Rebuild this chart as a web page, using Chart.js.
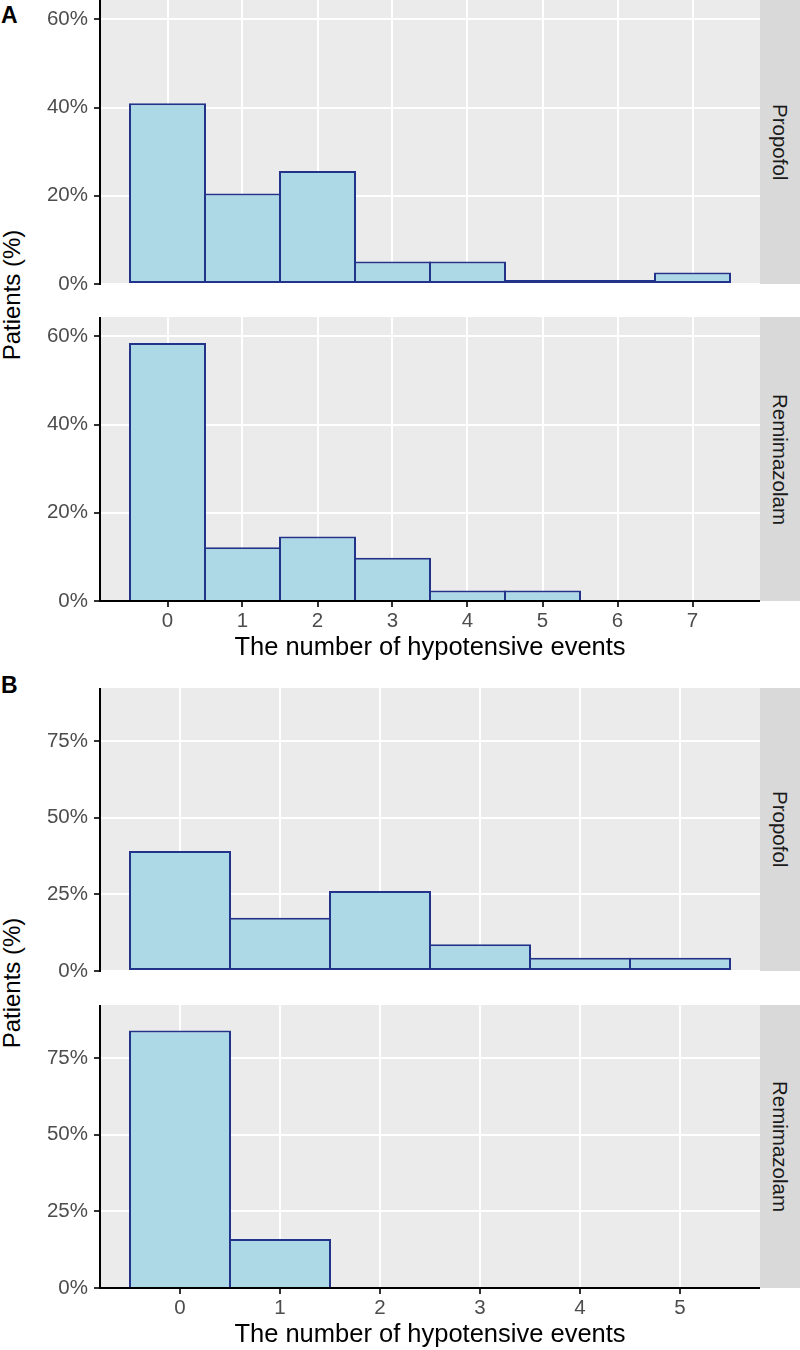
<!DOCTYPE html>
<html>
<head>
<meta charset="utf-8">
<script src="https://cdn.jsdelivr.net/npm/chart.js@4/dist/chart.umd.min.js"></script>
<style>
  body { margin: 0; background: #fff; font-family: "Liberation Sans", Arial, sans-serif; }
  #wrap { position: relative; width: 800px; height: 1350px; overflow: hidden; }
  canvas { position: absolute; left: 0; }
  .strip { position: absolute; left: 760px; width: 40px; background: #D9D9D9;
           display: flex; align-items: center; justify-content: center; }
  .strip span { writing-mode: vertical-rl; font-size: 20.5px; color: #1A1A1A; }
  .tag { position: absolute; left: 1px; font-weight: bold; font-size: 23px; color: #000; }
  .ylab { position: absolute; left: 12px; width: 0; height: 0; }
  .ylab span { position: absolute; transform: translate(-50%, -50%) rotate(-90deg);
               white-space: nowrap; font-size: 24px; color: #000; }
</style>
</head>
<body>
<div id="wrap">
  <div class="tag" style="top:2px">A</div>
  <div class="tag" style="top:672px">B</div>
  <div class="ylab" style="top:295px"><span>Patients (%)</span></div>
  <div class="ylab" style="top:983px"><span>Patients (%)</span></div>

  <canvas id="aProp" width="760" height="300" style="top:0px"></canvas>
  <canvas id="aRemi" width="760" height="346" style="top:317px"></canvas>
  <canvas id="bProp" width="760" height="299" style="top:688px"></canvas>
  <canvas id="bRemi" width="760" height="345" style="top:1005px"></canvas>

  <div class="strip" style="top:0px;height:284px"><span>Propofol</span></div>
  <div class="strip" style="top:317px;height:284px"><span>Remimazolam</span></div>
  <div class="strip" style="top:688px;height:283px"><span>Propofol</span></div>
  <div class="strip" style="top:1005px;height:283px"><span>Remimazolam</span></div>
</div>

<script>
// number of hypotensive events (bins) and % of patients
var binsA = [0, 1, 2, 3, 4, 5, 6, 7];
var propofolA = [41.0, 20.5, 25.6, 5.1, 5.1, 0, 0, 2.6];
var remimazolamA = [58.5, 12.2, 14.6, 9.8, 2.4, 2.4, 0, 0];

var binsB = [0, 1, 2, 3, 4, 5];
var propofolB = [39.1, 17.4, 26.1, 8.7, 4.3, 4.3];
var remimazolamB = [84.0, 16.0, 0, 0, 0, 0];

var yTicksA = [0, 20, 40, 60];
var yTicksB = [0, 25, 50, 75];

var xTitle = 'The number of hypotensive events';
var FONT = '"Liberation Sans", Arial, sans-serif';


function makeFacet(id, bins, values, yTicks, yMax, xRange, showX, bottomPad, minBar) {

    var unitPx = 660 / (xRange[1] - xRange[0]);

    var config = {
        type: 'bar',
        data: {
            datasets: [{
                data: bins.map(function(b, i) { return { x: b, y: values[i] }; }),
                backgroundColor: '#ADD8E6',
                borderColor: '#22348A',
                borderWidth: 2,
                borderSkipped: showX ? 'start' : false,
                minBarLength: minBar,
                barPercentage: 1 + 2 / unitPx,
                categoryPercentage: 1
            }]
        },
        options: {
            responsive: false,
            devicePixelRatio: 1,
            animation: false,
            layout: { padding: { left: 0, right: 0, top: 0, bottom: bottomPad } },
            plugins: { legend: { display: false }, tooltip: { enabled: false } },
            scales: {
                x: {
                    type: 'linear',
                    min: xRange[0],
                    max: xRange[1],
                    offset: false,
                    afterBuildTicks: function(s) { s.ticks = bins.map(function(v) { return { value: v }; }); },
                    afterFit: function(s) { s.height = showX ? 62 : 0; s.paddingLeft = 0; s.paddingRight = 0; },
                    grid: { offset: false, color: '#FFFFFF', lineWidth: 2, drawTicks: showX, tickLength: 6, tickColor: '#333333', tickWidth: 2 },
                    border: { display: showX, color: '#000000', width: 2, z: 1 },
                    ticks: { display: showX, color: '#4D4D4D', padding: 2, maxRotation: 0, font: { size: 20.5, family: FONT } },
                    title: { display: showX, text: xTitle, color: '#000000', padding: { top: 0, bottom: 0 }, font: { size: 25.5, family: FONT } }
                },
                y: {
                    min: 0,
                    max: yMax,
                    afterBuildTicks: function(s) { s.ticks = yTicks.map(function(v) { return { value: v }; }); },
                    afterFit: function(s) { s.width = 100; s.paddingTop = 0; s.paddingBottom = 0; },
                    grid: { color: '#FFFFFF', lineWidth: 2, tickLength: 6, tickColor: '#333333', tickWidth: 2 },
                    border: { display: true, color: '#000000', width: 2, z: 1 },
                    ticks: {
                        color: '#4D4D4D', padding: 6, font: { size: 20.5, family: FONT },
                        callback: function(v) { return v + '%'; }
                    }
                }
            }
        },
        plugins: [{
            id: 'panelBg',
            beforeDraw: function(chart) {
                var a = chart.chartArea, c = chart.ctx;
                c.save();
                c.fillStyle = '#EBEBEB';
                c.fillRect(a.left, a.top, a.right - a.left, a.bottom - a.top);
                c.restore();
            }
        }]
    };

    return new Chart(document.getElementById(id).getContext('2d'), config);
}


makeFacet('aProp', binsA, propofolA, yTicksA, 64.4, [-0.9, 7.9], false, 16, 4);
makeFacet('aRemi', binsA, remimazolamA, yTicksA, 64.4, [-0.9, 7.9], true, 0, 0);
makeFacet('bProp', binsB, propofolB, yTicksB, 92.3, [-0.8, 5.8], false, 16, 0);
makeFacet('bRemi', binsB, remimazolamB, yTicksB, 92.3, [-0.8, 5.8], true, 0, 0);

</script>
</body>
</html>
